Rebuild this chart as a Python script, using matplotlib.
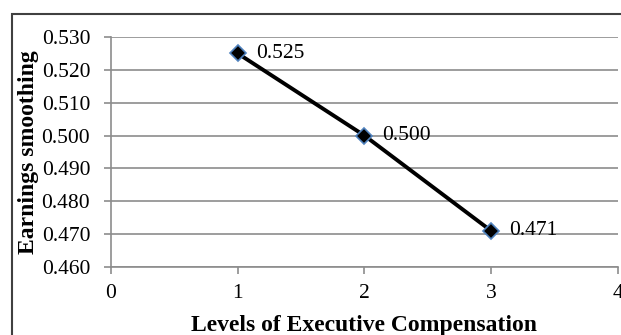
import matplotlib
matplotlib.use("Agg")
import matplotlib.pyplot as plt
from matplotlib.patches import Rectangle

levels = [1, 2, 3]
smoothing = [0.525, 0.500, 0.471]
value_labels = ["0.525", "0.500", "0.471"]
x_ticks = [0, 1, 2, 3, 4]
y_ticks = [0.460, 0.470, 0.480, 0.490, 0.500, 0.510, 0.520, 0.530]

plt.rcParams["font.family"] = ["Liberation Serif", "DejaVu Serif"]

fig = plt.figure(figsize=(6.21, 3.35), dpi=100)
ax = fig.add_axes([0.1787, 0.203, 0.995 - 0.1787, 0.8896 - 0.203])

grid_col = "#8c8c8c"
ax.set_xlim(0, 4)
ax.set_ylim(0.460, 0.530)
ax.set_xticks(x_ticks)
ax.set_yticks(y_ticks)
ax.set_xticklabels([str(t) for t in x_ticks])
ax.set_yticklabels([f"{t:.3f}" for t in y_ticks])
ax.yaxis.grid(True, color=grid_col, linewidth=1.2)
ax.set_axisbelow(True)
for s in ("top", "right"):
    ax.spines[s].set_visible(False)
for s in ("left", "bottom"):
    ax.spines[s].set_color(grid_col)
    ax.spines[s].set_linewidth(1.2)
ax.tick_params(axis="both", direction="out", length=5, width=1.2, color=grid_col,
               labelsize=15.5)
ax.tick_params(axis="y", pad=10)
ax.tick_params(axis="x", pad=7)

ax.plot(levels, smoothing, color="black", linewidth=2.8, marker="D", markersize=8,
        markerfacecolor="black", markeredgecolor="#4f81bd", markeredgewidth=1.2,
        zorder=3, clip_on=False)
for x, y, t in zip(levels, smoothing, value_labels):
    ax.annotate(t, (x, y), xytext=(13, 0), textcoords="offset points",
                ha="left", va="center", fontsize=15.5)

ax.set_xlabel("Levels of Executive Compensation", fontsize=17, fontweight="bold", labelpad=9)
ax.set_ylabel("Earnings smoothing", fontsize=17, fontweight="bold", labelpad=2)

fig.patches.append(Rectangle((12 / 621, -0.1), 1.2, (1 - 14 / 335) + 0.1,
                             transform=fig.transFigure, fill=False,
                             edgecolor="#404040", linewidth=1.5))

fig.savefig("out.png", dpi=100)
